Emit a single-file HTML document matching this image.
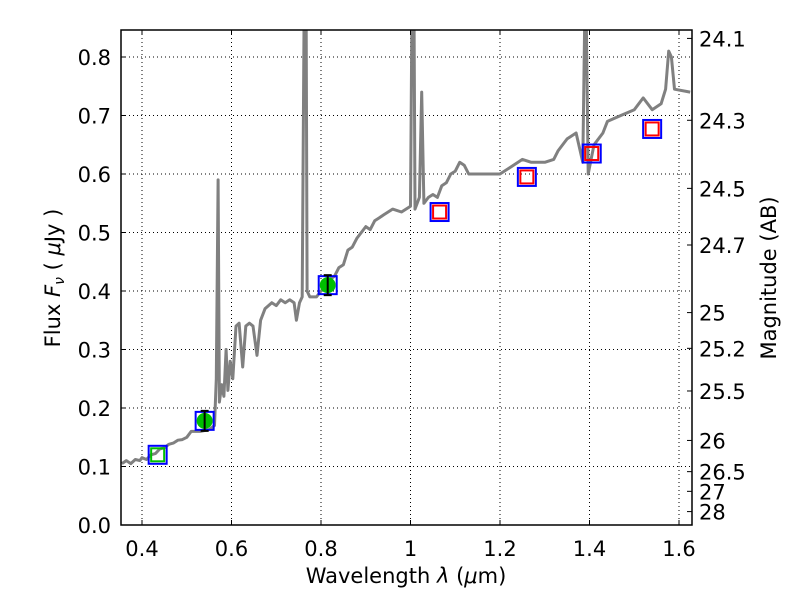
<!DOCTYPE html>
<html><head><meta charset="utf-8"><style>
body{margin:0;background:#fff;}
svg text{font-family:"DejaVu Sans","Liberation Sans",sans-serif;}
</style></head><body>
<svg id="s" width="800" height="600" xmlns="http://www.w3.org/2000/svg"></svg>
<script>
const s=document.getElementById('s');
const X=l=>142+(l-0.4)*447.5, Y=f=>525-f*585;
let h='';
[0.4,0.6,0.8,1.0,1.2,1.4,1.6].forEach(l=>{h+=`<line x1="${X(l)}" y1="30" x2="${X(l)}" y2="525" stroke="#000" stroke-width="1" stroke-dasharray="1,3"/>`;});
for(let i=1;i<=8;i++){const y=Y(i/10);h+=`<line x1="121" y1="${y}" x2="692" y2="${y}" stroke="#000" stroke-width="1" stroke-dasharray="1,3"/>`;}
const p=[[0.355,0.105],[0.365,0.11],[0.375,0.105],[0.385,0.112],[0.395,0.11],[0.4,0.115],[0.41,0.112],[0.42,0.12],[0.43,0.122],[0.44,0.13],[0.45,0.132],[0.46,0.138],[0.47,0.14],[0.48,0.145],[0.49,0.146],[0.50,0.15],[0.51,0.16],[0.53,0.16],[0.55,0.163],[0.562,0.17],[0.566,0.25],[0.57,0.59],[0.573,0.21],[0.578,0.24],[0.583,0.22],[0.588,0.30],[0.592,0.23],[0.597,0.28],[0.603,0.25],[0.61,0.34],[0.617,0.345],[0.625,0.27],[0.632,0.34],[0.64,0.345],[0.648,0.34],[0.657,0.29],[0.665,0.35],[0.675,0.37],[0.69,0.38],[0.70,0.375],[0.71,0.385],[0.72,0.38],[0.73,0.385],[0.74,0.38],[0.745,0.35],[0.752,0.38],[0.758,0.39],[0.762,0.85],[0.767,0.85],[0.769,0.4],[0.775,0.39],[0.79,0.39],[0.80,0.4],[0.81,0.405],[0.82,0.42],[0.83,0.425],[0.84,0.44],[0.85,0.445],[0.86,0.47],[0.87,0.475],[0.88,0.49],[0.89,0.5],[0.90,0.51],[0.91,0.505],[0.92,0.52],[0.93,0.525],[0.94,0.53],[0.95,0.535],[0.96,0.54],[0.98,0.535],[1.0,0.545],[1.003,0.85],[1.008,0.85],[1.01,0.54],[1.02,0.56],[1.025,0.74],[1.03,0.55],[1.04,0.56],[1.05,0.565],[1.06,0.56],[1.07,0.58],[1.08,0.585],[1.09,0.6],[1.1,0.605],[1.11,0.62],[1.12,0.615],[1.13,0.6],[1.15,0.6],[1.17,0.6],[1.20,0.6],[1.22,0.61],[1.25,0.625],[1.27,0.62],[1.30,0.62],[1.32,0.625],[1.33,0.64],[1.35,0.66],[1.37,0.67],[1.385,0.62],[1.389,0.85],[1.393,0.85],[1.397,0.6],[1.41,0.65],[1.43,0.67],[1.44,0.69],[1.47,0.70],[1.50,0.71],[1.52,0.73],[1.54,0.71],[1.56,0.72],[1.57,0.745],[1.577,0.81],[1.583,0.80],[1.59,0.745],[1.625,0.74]];
h+=`<clipPath id="c"><rect x="121" y="30" width="571" height="495"/></clipPath><polyline clip-path="url(#c)" fill="none" stroke="#808080" stroke-width="3" stroke-linejoin="round" points="${p.map(q=>X(q[0]).toFixed(1)+','+Y(q[1]).toFixed(1)).join(' ')}"/>`;
const sq=(l,f,c,sz)=>`<rect x="${X(l)-sz/2}" y="${Y(f)-sz/2}" width="${sz}" height="${sz}" fill="none" stroke="${c}" stroke-width="2"/>`;
h+=sq(0.435,0.12,'#0000ff',18)+sq(0.435,0.12,'#00bf00',13);
[[0.54,0.178],[0.815,0.41]].forEach(([l,f])=>{h+=sq(l,f,'#0000ff',18)+`<circle cx="${X(l)}" cy="${Y(f)}" r="8" fill="#00bf00"/><line x1="${X(l)}" y1="${Y(f)-10}" x2="${X(l)}" y2="${Y(f)+10}" stroke="#000" stroke-width="2"/><line x1="${X(l)-4}" y1="${Y(f)-10}" x2="${X(l)+4}" y2="${Y(f)-10}" stroke="#000" stroke-width="2"/><line x1="${X(l)-4}" y1="${Y(f)+10}" x2="${X(l)+4}" y2="${Y(f)+10}" stroke="#000" stroke-width="2"/>`;});
[[1.065,0.535],[1.26,0.595],[1.405,0.635],[1.54,0.677]].forEach(([l,f])=>{h+=sq(l,f,'#0000ff',18)+sq(l,f,'#ff0000',13);});
h+=`<rect x="121" y="30" width="571" height="495" fill="none" stroke="#000" stroke-width="1.5"/>`;
[0.4,0.6,0.8,1.0,1.2,1.4,1.6].forEach(l=>{const x=X(l);h+=`<line x1="${x}" y1="525" x2="${x}" y2="520" stroke="#000"/><line x1="${x}" y1="30" x2="${x}" y2="35" stroke="#000"/><text x="${x}" y="556" font-size="21" text-anchor="middle">${l==1?'1':l.toFixed(1)}</text>`;});
for(let i=0;i<=8;i++){const y=Y(i/10);h+=`<line x1="121" y1="${y}" x2="126" y2="${y}" stroke="#000"/><text x="111" y="${y+8}" font-size="21" text-anchor="end">${(i/10).toFixed(1)}</text>`;}
['24.1','24.3','24.5','24.7','25','25.2','25.5','26','26.5','27','28'].forEach(m=>{const y=Y(Math.pow(10,-(parseFloat(m)-23.9)/2.5));h+=`<line x1="692" y1="${y}" x2="687" y2="${y}" stroke="#000"/><text x="699" y="${y+8}" font-size="21">${m}</text>`;});
h+=`<text x="406" y="583" font-size="21" text-anchor="middle">Wavelength  <tspan font-style="italic">λ</tspan> (<tspan font-style="italic">μ</tspan>m)</text>`;
h+=`<text transform="translate(60,278) rotate(-90)" font-size="21" text-anchor="middle">Flux  <tspan font-style="italic">F</tspan><tspan font-style="italic" font-size="14" dy="4">ν</tspan><tspan dy="-4">  ( </tspan><tspan font-style="italic">μ</tspan>Jy )</text>`;
h+=`<text transform="translate(776,278) rotate(-90)" font-size="21" text-anchor="middle">Magnitude (AB)</text>`;
s.innerHTML=h;
</script>
</body></html>
